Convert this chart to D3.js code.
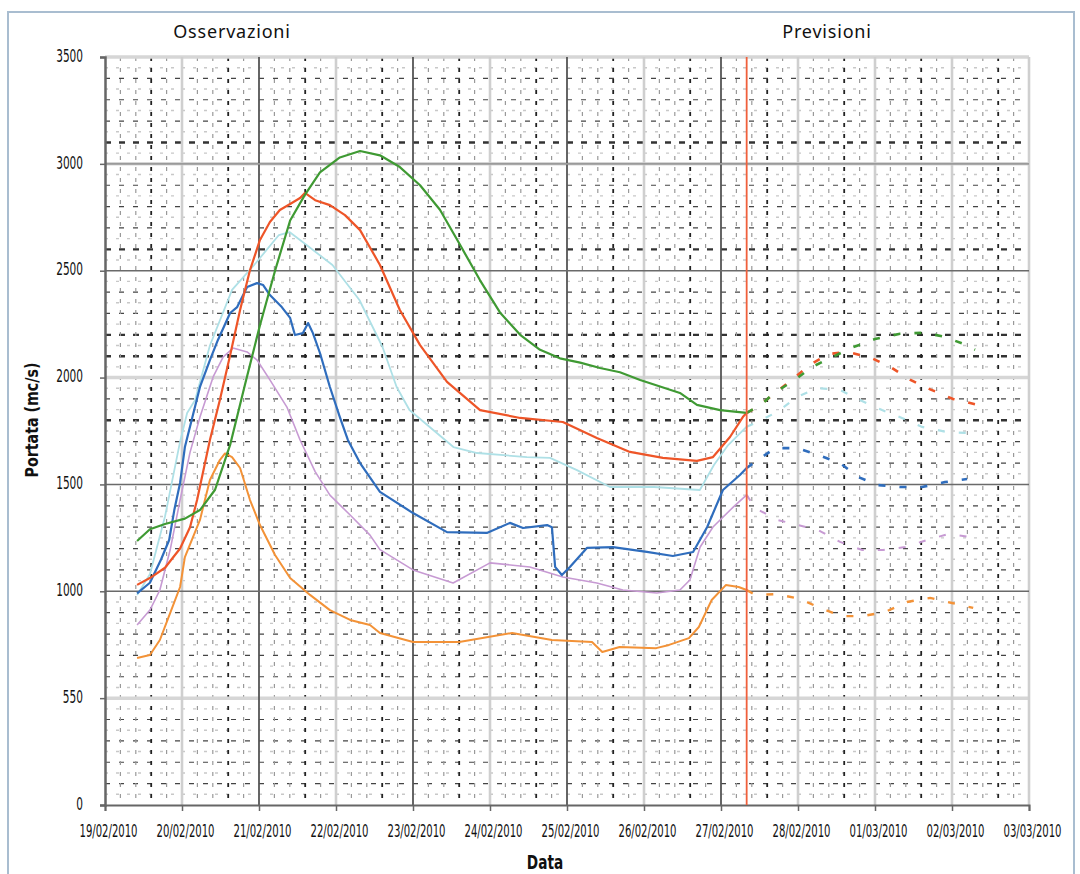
<!DOCTYPE html>
<html>
<head>
<meta charset="utf-8">
<script src="https://cdn.jsdelivr.net/npm/d3@7"></script>
<style>
	body { margin: 0; background: #fff; }
	.tick-lbl { font-family: "DejaVu Sans Condensed", "DejaVu Sans", sans-serif; fill: #111; }
</style>
</head>
<body>
<svg id="chart" width="1080" height="874"></svg>
<script>
// hours from 19/02/2010 00:00 , portata (mc/s)
const blue_obs = [[10,990],[14,1040],[17.5,1150],[20,1240],[21.6,1380],[23.4,1507],[24.9,1675],[29.6,1956],[32.7,2082],[35.2,2176],[39,2302],[41.2,2330],[44.3,2424],[47.4,2442],[49.3,2433],[51.4,2386],[55.1,2330],[57.7,2279],[59.2,2199],[61.7,2208],[63.3,2255],[64.8,2208],[67,2115],[70.1,1956],[73.2,1815],[75.7,1708],[79.5,1600],[85.7,1465],[96,1366],[106.6,1277],[119,1273],[126.2,1320],[130.3,1296],[137.8,1310],[139.3,1300],[140.3,1114],[142.4,1076],[144.9,1114],[150.2,1203],[158.3,1207],[168.9,1184],[177,1165],[183.3,1184],[187.7,1301],[192.6,1474],[197.9,1544],[200,1577]];
const blue_fc = [[200,1577],[202.6,1605],[208.8,1670],[215.7,1670],[222.2,1638],[229.1,1600],[234.7,1535],[240.9,1497],[247.8,1488],[254.7,1488],[261.8,1511],[268.7,1525]];

const red_obs = [[10,1030],[14,1062],[18.7,1110],[23.4,1200],[26.5,1300],[28.7,1427],[32.7,1708],[35.8,1895],[39,2105],[42.1,2316],[45.2,2503],[48.3,2644],[51.4,2728],[54.5,2784],[57.7,2812],[60.8,2840],[62.3,2864],[65.5,2830],[70.1,2807],[74.8,2760],[79.5,2690],[85.7,2527],[91.9,2316],[98.2,2152],[106.6,1980],[116.9,1848],[129.4,1811],[142.7,1792],[153.3,1717],[163.6,1652],[173.9,1624],[184.5,1610],[189.5,1628],[194.8,1722],[198.8,1815],[200,1835]];
const red_fc = [[200,1835],[203.2,1860],[208.2,1920],[214.1,1990],[219.7,2060],[225.4,2110],[231.6,2120],[239.1,2090],[245.3,2045],[250.9,1990],[257.2,1945],[264.3,1900],[271.2,1875]];

const green_obs = [[10,1235],[14,1290],[18.7,1315],[24.9,1340],[29.6,1380],[34.3,1475],[39,1685],[43.6,1965],[48.3,2245],[53,2500],[57.7,2735],[62.3,2855],[67,2960],[73.2,3030],[79.5,3060],[85.7,3040],[91.9,2985],[98.2,2900],[104.4,2785],[110.7,2620],[116.9,2455],[123.1,2305],[129.4,2200],[135.6,2130],[141.8,2090],[148.1,2070],[154.3,2045],[160.5,2025],[166.8,1989],[179.2,1928],[184.5,1872],[191.7,1848],[200,1835]];
const green_fc = [[200,1835],[204.2,1870],[208.8,1930],[215.1,1990],[220.4,2050],[226.6,2095],[232.8,2140],[240,2180],[247.8,2205],[255.6,2210],[261.8,2190],[267.1,2160],[271.2,2130]];

const cyan_obs = [[10,983],[14,1080],[18.7,1350],[23.4,1700],[25.6,1834],[28.1,1895],[32.7,2150],[39.6,2410],[47,2536],[54.2,2667],[57.5,2681],[61.6,2634],[70.9,2527],[79.3,2363],[86.5,2143],[90.9,1956],[94.9,1848],[108.6,1675],[116,1647],[131.5,1628],[138.7,1624],[147.1,1567],[157.4,1488],[171.1,1488],[185.4,1474],[189.8,1591],[194,1680],[200,1770]];
const cyan_fc = [[200,1770],[202.6,1787],[209.5,1839],[215.7,1909],[221.9,1951],[229.1,1942],[235.3,1895],[242.2,1848],[248.4,1811],[254.7,1769],[262.5,1745],[268.7,1741]];

const purple_obs = [[10,842],[14,912],[17.1,1006],[20.3,1193],[23.4,1427],[26.5,1650],[29.6,1815],[33.7,2003],[36.8,2096],[39.9,2138],[44.3,2120],[47.4,2082],[51.4,1989],[56.7,1862],[60.8,1708],[65.5,1560],[70.1,1450],[76.4,1357],[82.6,1263],[85.7,1195],[96,1100],[108.5,1039],[120,1133],[132.4,1114],[142.7,1067],[153.3,1039],[161.4,1006],[172,992],[179.2,1006],[182.3,1053],[185.5,1207],[189.5,1301],[195.8,1394],[200,1451]];
const purple_fc = [[200,1451],[202.6,1390],[209.5,1334],[216,1310],[222.2,1287],[229.1,1231],[236,1193],[242.5,1193],[249.4,1207],[256.2,1240],[262.8,1268],[269.6,1254]];

const orange_obs = [[10,688],[14,702],[17.1,772],[20.3,898],[23.4,1020],[24.9,1160],[29.6,1334],[32.7,1521],[35.8,1614],[37.4,1645],[39.6,1628],[42.1,1577],[45.2,1427],[48.3,1310],[53,1170],[57.7,1062],[63.9,983],[70.1,912],[76.4,866],[82.6,842],[85.7,805],[96,763],[110.4,763],[126.9,805],[139.3,772],[151.8,763],[155,716],[160.4,739],[171.8,734],[175.8,749],[182,781],[185.1,833],[189.1,959],[193.5,1029],[197.5,1020],[200,1006]];
const orange_fc = [[200,1006],[202.6,983],[209.5,987],[216.6,964],[222.9,922],[229.7,884],[236.3,884],[243.1,903],[250,950],[257.2,969],[264,945],[270.6,922]];

const series = [
	{ obs: orange_obs, fc: orange_fc, color: "#f39237", width: 2 },
	{ obs: purple_obs, fc: purple_fc, color: "#c79ad3", width: 1.6 },
	{ obs: cyan_obs, fc: cyan_fc, color: "#aee0e6", width: 1.8 },
	{ obs: blue_obs, fc: blue_fc, color: "#2f6dbd", width: 2.2 },
	{ obs: red_obs, fc: red_fc, color: "#ee5528", width: 2.2 },
	{ obs: green_obs, fc: green_fc, color: "#3f9a33", width: 2.2 }
];

const y_ticks = [0, 500, 1000, 1500, 2000, 2500, 3000, 3500];
const y_tick_labels = ["0", "550", "1000", "1500", "2000", "2500", "3000", "3500"];
const y_dark_lines = [2500, 1500, 1000, 3000];
const y_light_lines = [3500, 3000, 2000, 500];
const y_heavy_dashed = [3100, 2600, 2200, 2100, 1800];
const dark_days = ["2010-02-21", "2010-02-23", "2010-02-25", "2010-02-27"];
const forecast_start_h = 200;	// 27/02/2010 08:00

const t0 = new Date(2010, 1, 19);
const t1 = new Date(2010, 2, 3);
const to_date = (h) => new Date(t0.getTime() + h * 3600e3);

const svg = d3.select("#chart");
const x = d3.scaleTime().domain([t0, t1]).range([105, 1029]);
const y = d3.scaleLinear().domain([0, 3500]).range([805, 57]);

// frame
svg.append("path")
	.attr("d", "M8,874 V12 H1074 V874")
	.attr("fill", "none")
	.attr("stroke", "#a9bdd0")
	.attr("stroke-width", 2);

const grid = svg.append("g");

// horizontal grid
d3.range(50, 3500, 50).forEach((v) => {
	if (v % 500 == 0) return;
	let line = grid.append("line")
		.attr("x1", x(t0)).attr("x2", x(t1))
		.attr("y1", y(v)).attr("y2", y(v));
	if (v % 100 != 0) {
		line.attr("stroke", "#c8c8c8").attr("stroke-width", 1.4).attr("stroke-dasharray", "3,8");
	} else if (y_heavy_dashed.indexOf(v) != -1) {
		line.attr("stroke", "#333").attr("stroke-width", 2.4).attr("stroke-dasharray", "6,8");
	} else {
		line.attr("stroke", "#444").attr("stroke-width", 1.2).attr("stroke-dasharray", "5,9");
	}
});

// vertical minor grid (1/5 of day)
d3.range(1, 12 * 5).forEach((i) => {
	if (i % 5 == 0) return;
	const strong = i % 5 == 3;
	grid.append("line")
		.attr("x1", x(to_date(i * 4.8))).attr("x2", x(to_date(i * 4.8)))
		.attr("y1", y(3500)).attr("y2", y(0))
		.attr("stroke", strong ? "#222" : "#999")
		.attr("stroke-width", strong ? 1.8 : 1.2)
		.attr("stroke-dasharray", "4,7");
});

y_light_lines.forEach((v) => {
	grid.append("line")
		.attr("x1", x(t0)).attr("x2", x(t1))
		.attr("y1", y(v)).attr("y2", y(v))
		.attr("stroke", "#d6d6d6").attr("stroke-width", 3.5);
});

// vertical day lines
const days = d3.timeDay.range(d3.timeDay.offset(t0, 1), d3.timeDay.offset(t1, 1));
days.forEach((d) => {
	const dark = dark_days.indexOf(d3.timeFormat("%Y-%m-%d")(d)) != -1;
	grid.append("line")
		.attr("x1", x(d)).attr("x2", x(d))
		.attr("y1", y(3500)).attr("y2", y(0))
		.attr("stroke", dark ? "#555" : "#cfcfcf")
		.attr("stroke-width", dark ? 1.8 : 2.6);
});

y_dark_lines.forEach((v) => {
	grid.append("line")
		.attr("x1", x(t0)).attr("x2", x(t1))
		.attr("y1", y(v)).attr("y2", y(v))
		.attr("stroke", v == 3000 ? "#9a9a9a" : "#6a6a6a").attr("stroke-width", 1.6);
});

// axes
const y_sx = 0.69;
const x_sx = 0.64;

const y_axis = d3.axisLeft(y)
	.tickValues(y_ticks)
	.tickSize(5)
	.tickFormat((d, i) => y_tick_labels[i]);

svg.append("g")
	.attr("transform", "translate(" + x(t0) + ",0)")
	.call(y_axis)
	.call((g) => {
		g.select(".domain").attr("stroke", "#666").attr("stroke-width", 2.5);
		g.selectAll(".tick line").attr("stroke", "#666").attr("stroke-width", 1.5);
		g.selectAll(".tick text")
			.attr("class", "tick-lbl")
			.attr("x", -22 / y_sx)
			.attr("dy", "0.25em")
			.attr("transform", "scale(" + y_sx + ",1)")
			.style("font-size", "17px");
	});

const x_axis = d3.axisBottom(x)
	.ticks(d3.timeDay.every(1))
	.tickSize(6)
	.tickFormat(d3.timeFormat("%d/%m/%Y"));

svg.append("g")
	.attr("transform", "translate(0," + y(0) + ")")
	.call(x_axis)
	.call((g) => {
		g.select(".domain").attr("stroke", "#666").attr("stroke-width", 2);
		g.selectAll(".tick line").attr("stroke", "#666").attr("stroke-width", 1.5);
		g.selectAll(".tick text")
			.attr("class", "tick-lbl")
			.attr("y", 20)
			.attr("x", 3 / x_sx)
			.attr("transform", "scale(" + x_sx + ",1)")
			.style("font-size", "17.5px");
	});

// series
const line = d3.line()
	.x((d) => x(to_date(d[0])))
	.y((d) => y(d[1]));

series.forEach((s) => {
	svg.append("path")
		.datum(s.obs)
		.attr("d", line)
		.attr("fill", "none")
		.attr("stroke", s.color)
		.attr("stroke-width", s.width)
		.attr("stroke-linejoin", "round");
	svg.append("path")
		.datum(s.fc)
		.attr("d", line)
		.attr("fill", "none")
		.attr("stroke", s.color)
		.attr("stroke-width", s.width + 0.4)
		.attr("stroke-dasharray", "7,14");
});

// separation observations / forecasts
svg.append("line")
	.attr("x1", x(to_date(forecast_start_h))).attr("x2", x(to_date(forecast_start_h)))
	.attr("y1", y(3500)).attr("y2", y(0))
	.attr("stroke", "#f0603c")
	.attr("stroke-width", 1.8);

// titles
svg.append("text")
	.attr("x", 232).attr("y", 38)
	.attr("text-anchor", "middle")
	.style("font-family", "'Noto Sans', sans-serif")
	.style("font-size", "18px")
	.style("letter-spacing", "0.8px")
	.attr("fill", "#111")
	.text("Osservazioni");

svg.append("text")
	.attr("x", 827).attr("y", 38)
	.attr("text-anchor", "middle")
	.style("font-family", "'Noto Sans', sans-serif")
	.style("font-size", "18px")
	.style("letter-spacing", "0.8px")
	.attr("fill", "#111")
	.text("Previsioni");

svg.append("text")
	.attr("transform", "translate(38,420) rotate(-90) scale(0.88,1)")
	.attr("text-anchor", "middle")
	.style("font-family", "'DejaVu Sans Condensed', 'DejaVu Sans', sans-serif")
	.style("font-weight", "bold")
	.style("font-size", "18px")
	.attr("fill", "#111")
	.text("Portata (mc/s)");

svg.append("text")
	.attr("transform", "translate(545,869) scale(0.8,1)")
	.attr("text-anchor", "middle")
	.style("font-family", "'DejaVu Sans Condensed', 'DejaVu Sans', sans-serif")
	.style("font-weight", "bold")
	.style("font-size", "19px")
	.attr("fill", "#111")
	.text("Data");
</script>
</body>
</html>
